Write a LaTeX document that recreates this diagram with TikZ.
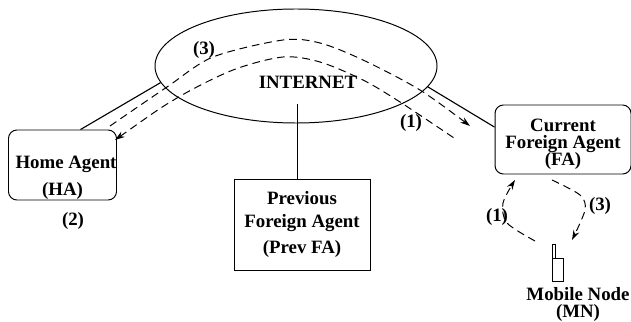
\documentclass[tikz,border=0pt]{standalone}
\usepackage{fontspec}
\setmainfont{Liberation Serif}
\usetikzlibrary{shapes.geometric}
\usetikzlibrary{arrows.meta}
\tikzset{
agentbox/.style={draw,line width=0.7pt,minimum width=2.625cm,minimum height=1.75cm,inner sep=0pt,align=center,font=\bfseries\fontsize{13.4}{15}\selectfont},
lbl/.style={inner sep=0pt,align=center,font=\bfseries\fontsize{13.4}{15}\selectfont},
pathline/.style={line width=0.7pt,dash pattern=on 5.5pt off 3.5pt},
wire/.style={line width=0.8pt},
tip/.tip={Stealth[length=7pt,width=4.5pt]}
}
\begin{document}
\begin{tikzpicture}
\useasboundingbox (0,0) rectangle (15.775,8.025);
\node[ellipse,draw,line width=0.7pt,minimum width=7.05cm,minimum height=2.85cm,inner sep=0pt] (inet) at (7.4,6.375) {};
\node[lbl] (inetlabel) at (7.7,5.975) {INTERNET};
\node[agentbox,rounded corners=6pt] (home) at (1.5625,3.9) {\mbox{}\\[12pt]\hspace*{5pt}Home Agent\\[4.5pt](HA)};
\node[agentbox,minimum width=3.4cm,minimum height=2.275cm] (prev) at (7.55,2.4125) {Previous\\[1.5pt]Foreign Agent\\[3.5pt](Prev FA)};
\node[agentbox,rounded corners=6pt,minimum width=3.4cm,minimum height=1.725cm] (cur) at (14.075,4.5375) {\mbox{}\\[0pt]Current\\[-2.8pt]Foreign Agent\\[-3pt](FA)};
\node[lbl] (hopa) at (5.1,6.775) {(3)};
\node[lbl] (hopb) at (10.275,4.95) {(1)};
\node[lbl] (hopc) at (1.825,2.5) {(2)};
\node[lbl] (hopd) at (12.425,2.6) {(1)};
\node[lbl] (hope) at (15,2.875) {(3)};
\node[lbl] (mobile) at (14.45,0.42) {Mobile Node\\[-3pt](MN)};

\draw[wire] (inet.187.6) -- ([xshift=0.45cm]home.north);
\draw[wire] (inet.351) -- ([yshift=0.31cm]cur.west);
\coordinate (drop) at (7.4375,5.425);
\draw[line width=0.7pt] (drop) -- (drop |- prev.north);

\draw[pathline,-tip] plot[smooth] coordinates {(2.75,4.875) (4.175,5.85) (5.325,6.6) (7.075,7.025) (8,6.95) (9.075,6.525) (10.5,5.775) (11.75,4.875)};
\draw[pathline,tip-] plot[smooth] coordinates {(2.875,4.525) (4.425,5.575) (5.825,6.275) (7.075,6.6) (8,6.475) (9.075,6.025) (10,5.475) (11.425,4.525)};

\draw[pathline,-tip] plot[smooth] coordinates {(13.375,2.0) (12.675,2.45) (12.575,2.95) (12.875,3.525)};
\draw[pathline,-tip] plot[smooth] coordinates {(13.8,3.525) (14.5,3.15) (14.625,2.775) (14.3,2.025)};

\draw[line width=0.7pt] (13.8,1.0) rectangle (14.075,1.575);
\draw[line width=0.7pt] (13.8,1.575) -- (13.8,1.925) -- (13.875,1.925) -- (13.875,1.575);
\end{tikzpicture}
\end{document}
